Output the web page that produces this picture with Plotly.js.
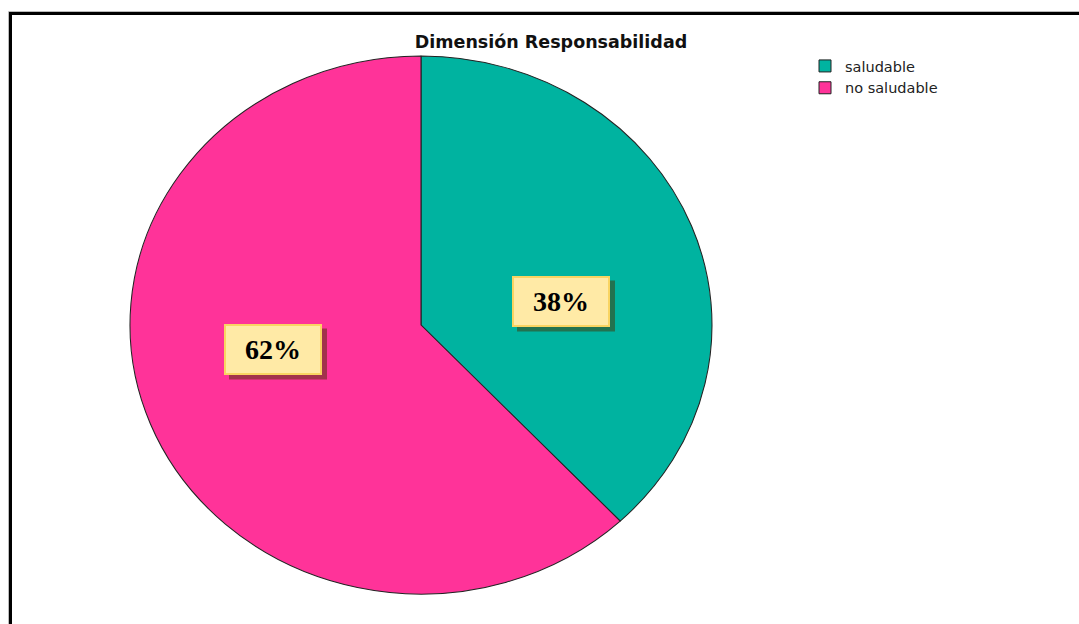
<!DOCTYPE html>
<html>
<head>
<meta charset="utf-8">
<script src="https://cdn.plot.ly/plotly-3.0.1.min.js"></script>
<style>html,body{margin:0;padding:0;background:#fff;}#chart{width:1079px;height:624px;}</style>
</head>
<body>
<div id="chart"></div>
<script>
const categories = ["saludable", "no saludable"];
const values = [38, 62];
const percentLabels = ["38%", "62%"];
const sliceColors = ["#00B3A0", "#FF3399"];

const W = 1079, H = 624;
const cx = 421, cy = 325, r = 280;
const rx = 291, ry = 269;

function px(x){ return x / W; }
function py(y){ return 1 - y / H; }

const labelBoxes = [
  {cx: 561, cy: 301},
  {cx: 273, cy: 349}
];
const boxW = 98, boxH = 51;

const annotations = [];
const shadowShapes = [];
labelBoxes.forEach((b, i) => {
  shadowShapes.push({
    type: 'rect', xref: 'paper', yref: 'paper', layer: 'above',
    x0: px(b.cx - boxW / 2 + 5), x1: px(b.cx + boxW / 2 + 5),
    y0: py(b.cy + boxH / 2 + 5), y1: py(b.cy - boxH / 2 + 5),
    fillcolor: 'rgba(70,50,0,0.5)', line: {width: 0}
  });
  annotations.push({
    xref: 'paper', yref: 'paper', x: px(b.cx), y: py(b.cy),
    xanchor: 'center', yanchor: 'middle', showarrow: false,
    text: '<b>' + percentLabels[i] + '</b>',
    font: {family: 'Liberation Serif', size: 28, color: '#000'},
    width: 90, height: 43, borderpad: 2, borderwidth: 2,
    bordercolor: '#F9D462', bgcolor: '#FFEAA6'
  });
});

const data = [{
  type: 'pie',
  labels: categories,
  values: values,
  sort: false,
  direction: 'clockwise',
  rotation: 0,
  textinfo: 'none',
  hoverinfo: 'label+percent',
  marker: {colors: sliceColors, line: {color: '#222', width: 1}},
  domain: {x: [px(cx - r), px(cx + r)], y: [py(cy + r), py(cy - r)]}
}];

const layout = {
  width: W, height: H,
  margin: {l: 0, r: 0, t: 0, b: 0},
  paper_bgcolor: '#fff',
  showlegend: true,
  title: {
    text: '<b>Dimensión Responsabilidad</b>',
    font: {family: 'DejaVu Sans', size: 17.5, color: '#111'},
    x: px(551), xanchor: 'center', xref: 'paper',
    y: py(42), yanchor: 'middle', yref: 'paper'
  },
  legend: {
    x: px(805), y: py(50), xanchor: 'left', yanchor: 'top',
    font: {family: 'DejaVu Sans', size: 14.5, color: '#222'},
    bgcolor: 'rgba(0,0,0,0)', tracegroupgap: 0
  },
  annotations: annotations,
  shapes: [
    {type: 'line', xref: 'paper', yref: 'paper', x0: px(10.5), x1: px(10.5), y0: py(13), y1: py(640), line: {color: '#000', width: 3}},
    {type: 'line', xref: 'paper', yref: 'paper', x0: px(9), x1: px(1100), y0: py(13.5), y1: py(13.5), line: {color: '#000', width: 3}},
    {type: 'line', xref: 'paper', yref: 'paper', x0: px(8.5), x1: px(8.5), y0: py(11.5), y1: py(640), line: {color: '#bbb', width: 1}},
    {type: 'line', xref: 'paper', yref: 'paper', x0: px(8.5), x1: px(1100), y0: py(11.5), y1: py(11.5), line: {color: '#bbb', width: 1}}
  ].concat(shadowShapes)
};

Plotly.newPlot('chart', data, layout, {displayModeBar: false, staticPlot: true}).then(gd => {
  // stretch the pie into the ellipse of the reference
  const sx = rx / r, sy = ry / r;
  document.querySelectorAll('.pielayer .trace').forEach(g => {
    g.setAttribute('transform', `translate(${cx},${cy}) scale(${sx},${sy}) translate(${-cx},${-cy})`);
  });
});
</script>
</body>
</html>
